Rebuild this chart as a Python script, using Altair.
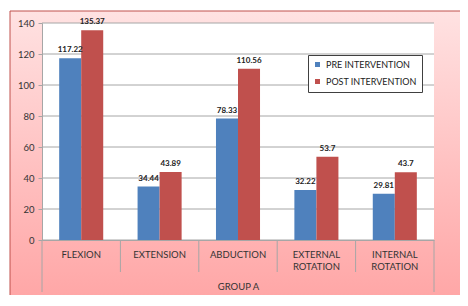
import altair as alt
import pandas as pd

categories = ["FLEXION", "EXTENSION", "ABDUCTION", "EXTERNAL ROTATION", "INTERNAL ROTATION"]
series = ["PRE INTERVENTION", "POST INTERVENTION"]
pre_values = [117.22, 34.44, 78.33, 32.22, 29.81]
post_values = [135.37, 43.89, 110.56, 53.7, 43.7]
y_ticks = [0, 20, 40, 60, 80, 100, 120, 140]
group_label = "GROUP A"
colors = ["#4f81bd", "#c0504d"]

rows = []
for c, a, b in zip(categories, pre_values, post_values):
    rows.append({"cat": c, "series": series[0], "value": a, "label": f"{a:g}"})
    rows.append({"cat": c, "series": series[1], "value": b, "label": f"{b:g}"})
df = pd.DataFrame(rows)

W, H = 392, 217
FONT = "Lato"
GRID = "#a6a6a6"

yscale = alt.Scale(domain=[0, 140], nice=False, zero=True)
xscale = alt.Scale(paddingInner=0, paddingOuter=0)
offscale = alt.Scale(paddingInner=0, paddingOuter=0.78)

yaxis = alt.Axis(title=None, values=y_ticks, tickCount=8, grid=False, tickSize=4,
                 tickColor=GRID, domainColor=GRID, labelPadding=4,
                 labelOverlap=False, labelFlush=False, labelBound=False,
                 labelFont=FONT, labelFontSize=9.5, labelColor="#333333",
                 zindex=1)

one = pd.DataFrame({"k": [0]})

bg = alt.Chart(one).mark_rect(
    color=alt.Gradient(
        gradient="linear",
        stops=[alt.GradientStop(color="#ffe2e2", offset=0),
               alt.GradientStop(color="#ffc0c0", offset=0.5),
               alt.GradientStop(color="#ffa0a0", offset=1)],
        x1=0, x2=0, y1=0, y2=1),
    stroke="#c0504d", strokeWidth=1, clip=False,
).encode(x=alt.value(-32), x2=alt.value(W + 80), y=alt.value(-12), y2=alt.value(H + 90))

plot_bg = alt.Chart(one).mark_rect(color="white").encode(
    x=alt.value(0), x2=alt.value(W), y=alt.value(0), y2=alt.value(H))

grid = alt.Chart(pd.DataFrame({"value": y_ticks})).mark_rule(color=GRID, strokeWidth=1).encode(
    y=alt.Y("value:Q", scale=yscale))

bars = alt.Chart(df).mark_bar().encode(
    x=alt.X("cat:N", sort=categories, scale=xscale,
            axis=alt.Axis(title=group_label, labelAngle=0, ticks=False,
                          labelExpr="split(datum.label, ' ')",
                          labelFont=FONT, labelFontSize=9.5, labelColor="#333333",
                          labelLineHeight=12, labelPadding=9,
                          titleFont=FONT, titleFontSize=9.5, titleFontWeight="normal",
                          titleColor="#333333", titlePadding=11,
                          domainColor=GRID, zindex=1)),
    xOffset=alt.XOffset("series:N", sort=series, scale=offscale),
    y=alt.Y("value:Q", scale=yscale, axis=yaxis),
    color=alt.Color("series:N", sort=series,
                    scale=alt.Scale(domain=series, range=colors),
                    legend=alt.Legend(title=None, orient="none", legendX=266, legendY=32,
                                      fillColor="white", strokeColor="#404040",
                                      padding=5, symbolType="square", symbolSize=25,
                                      symbolStrokeWidth=0, rowPadding=7,
                                      labelFont=FONT, labelFontSize=9,
                                      labelColor="#222222", zindex=1)),
)

labels = alt.Chart(df).mark_text(
    font=FONT, fontSize=8, fontWeight="bold", color="#222222", baseline="bottom", dy=-4
).encode(
    x=alt.X("cat:N", sort=categories, scale=xscale),
    xOffset=alt.XOffset("series:N", sort=series, scale=offscale),
    y=alt.Y("value:Q", scale=yscale),
    text="label:N",
)

sep_inner = alt.Chart(pd.DataFrame({"cat": categories[1:]})).mark_rule(color=GRID).encode(
    x=alt.X("cat:N", sort=categories, scale=xscale, bandPosition=0),
    y=alt.value(H), y2=alt.value(H + 32))
sep_left = alt.Chart(pd.DataFrame({"cat": categories[:1]})).mark_rule(color=GRID).encode(
    x=alt.X("cat:N", sort=categories, scale=xscale, bandPosition=0),
    y=alt.value(H), y2=alt.value(H + 52))
sep_right = alt.Chart(pd.DataFrame({"cat": categories[-1:]})).mark_rule(color=GRID).encode(
    x=alt.X("cat:N", sort=categories, scale=xscale, bandPosition=1),
    y=alt.value(H), y2=alt.value(H + 52))

shadow = alt.Chart(one).mark_rect(color="#8c8c8c", opacity=0.7).encode(
    x=alt.value(268), x2=alt.value(373), y=alt.value(34), y2=alt.value(68))

chart = alt.layer(bg, plot_bg, grid, bars, labels, sep_inner, sep_left, sep_right, shadow).properties(
    width=W, height=H,
    autosize=alt.AutoSizeParams(type="none"),
    padding={"left": 34, "top": 15, "right": 26, "bottom": 55},
    background="white",
).configure_view(stroke=None)

chart.save("out.html", embed_options={"renderer": "svg", "actions": False})
